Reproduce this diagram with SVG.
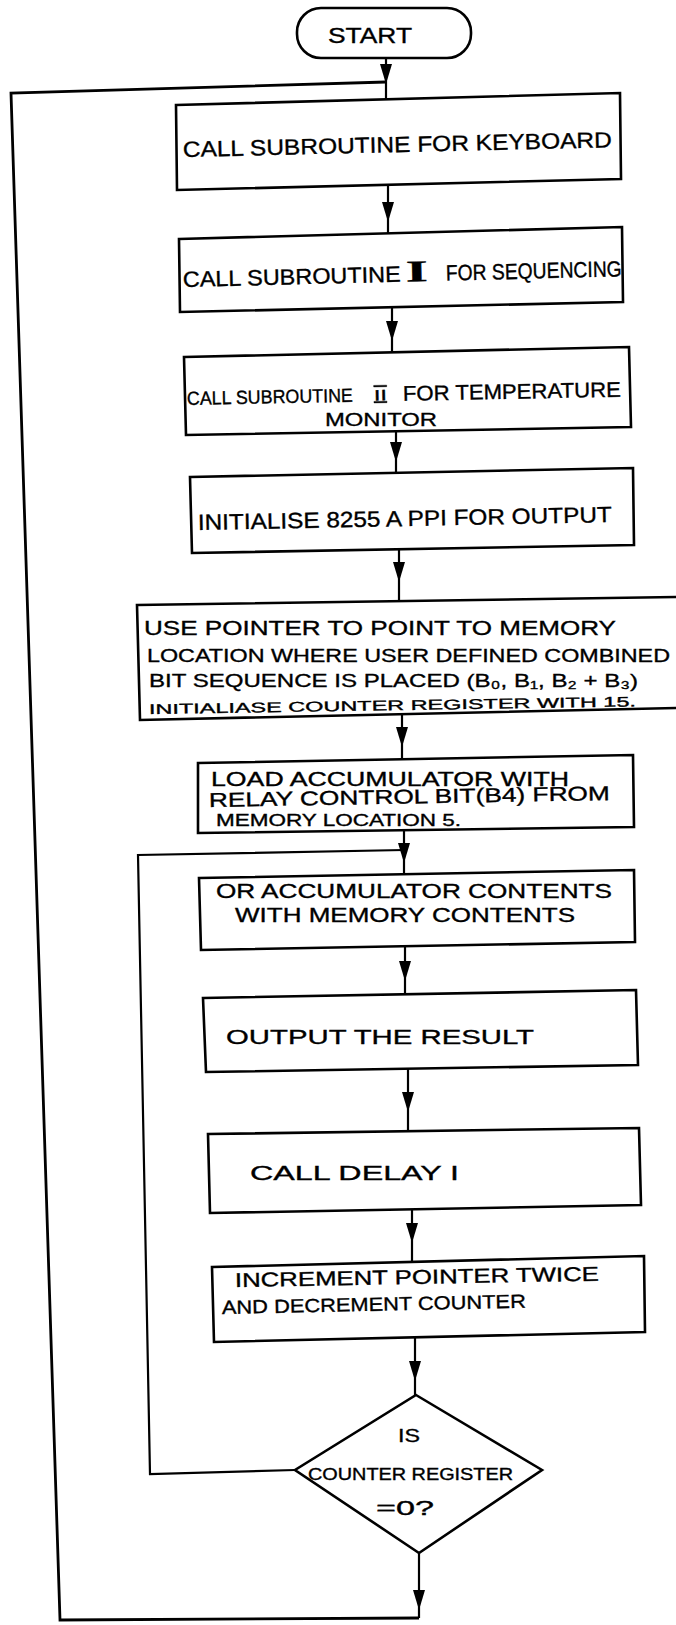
<svg xmlns="http://www.w3.org/2000/svg" width="676" height="1625" viewBox="0 0 676 1625">
  <defs>
    <marker id="ah" markerUnits="userSpaceOnUse" markerWidth="22" markerHeight="12" refX="20" refY="6" orient="auto">
      <path d="M0,0 L20,6 L0,12 Z" fill="#000"/>
    </marker>
    <style>
      .box { fill: #fff; stroke: #000; stroke-width: 2.6; stroke-linejoin: miter; }
      .wire { fill: none; stroke: #000; stroke-width: 2.2; }
      .loop { fill: none; stroke: #000; stroke-width: 2.8; }
      .flow { fill: none; stroke: #000; stroke-width: 2.2; marker-mid: url(#ah); }
      text { font-family: "Liberation Sans", "DejaVu Sans", sans-serif; fill: #000; stroke: #000; stroke-width: 0.35; }
      .roman { font-family: "Liberation Serif", serif; font-weight: bold; }
    </style>
  </defs>

  <rect width="676" height="1625" fill="#fff"/>

  <!-- connectors -->
  <g id="connectors">
    <path class="flow" d="M386,58 L386,84 L386,99"/>
    <path class="flow" d="M388,186 L388,222 L388,234"/>
    <path class="flow" d="M392,308 L392,341 L392,353"/>
    <path class="flow" d="M396,431 L396,462 L396,473"/>
    <path class="flow" d="M399,549 L399,582 L399,601"/>
    <path class="flow" d="M402,714 L402,747 L402,759"/>
    <path class="flow" d="M404,831 L404,863 L404,875"/>
    <path class="flow" d="M405,946 L405,981 L405,994"/>
    <path class="flow" d="M408,1068 L408,1112 L408,1131"/>
    <path class="flow" d="M412,1209 L412,1243 L412,1262"/>
    <path class="flow" d="M415,1337 L415,1381 L415,1395"/>
    <path class="flow" d="M419,1553 L419,1610 L419,1618"/>
    <!-- outer return path to the top -->
    <path class="loop" d="M419,1618 L60,1620 L11,93 L386,82"/>
    <!-- inner loop back from the decision -->
    <path class="wire" d="M295,1470 L150,1474 L138,855 L404,850"/>
  </g>

  <g id="start">
    <rect class="box" x="297" y="8" width="174" height="50" rx="24" ry="24"/>
    <text x="328" y="43" font-size="22" textLength="84" lengthAdjust="spacingAndGlyphs">START</text>
  </g>

  <g id="keyboard">
    <polygon class="box" points="176,105 620,93 621,179 177,190"/>
    <text x="183" y="157" font-size="22" textLength="429" lengthAdjust="spacingAndGlyphs" transform="rotate(-1.3 183 157)">CALL SUBROUTINE FOR KEYBOARD</text>
  </g>

  <g id="sequencing">
    <polygon class="box" points="179,239 622,227 623,302 180,312"/>
    <g transform="rotate(-1.4 183 287)">
      <text x="183" y="287" font-size="22" textLength="218" lengthAdjust="spacingAndGlyphs">CALL SUBROUTINE</text>
      <text class="roman" x="406" y="287" font-size="30" textLength="22" lengthAdjust="spacingAndGlyphs">I</text>
      <text x="446" y="287" font-size="22" textLength="176" lengthAdjust="spacingAndGlyphs">FOR SEQUENCING</text>
    </g>
  </g>

  <g id="temperature">
    <polygon class="box" points="184,357 629,347 631,427 186,435"/>
    <g transform="rotate(-1.1 187 405)">
      <text x="187" y="405" font-size="19" textLength="166" lengthAdjust="spacingAndGlyphs">CALL SUBROUTINE</text>
      <text x="374" y="404" font-size="15" textLength="13" lengthAdjust="spacingAndGlyphs" text-decoration="underline overline">II</text>
      <text x="403" y="405" font-size="21" textLength="218" lengthAdjust="spacingAndGlyphs">FOR TEMPERATURE</text>
    </g>
    <text x="325" y="426" font-size="19" textLength="112" lengthAdjust="spacingAndGlyphs">MONITOR</text>
  </g>

  <g id="init-ppi">
    <polygon class="box" points="190,477 633,468 634,545 192,553"/>
    <text x="198" y="530" font-size="22" textLength="414" lengthAdjust="spacingAndGlyphs" transform="rotate(-1.1 198 530)">INITIALISE 8255 A PPI FOR OUTPUT</text>
  </g>

  <g id="pointer">
    <polygon class="box" points="137,605 678,597 678,708 140,720"/>
    <text x="144" y="635" font-size="21" textLength="472" lengthAdjust="spacingAndGlyphs">USE POINTER TO POINT TO MEMORY</text>
    <text x="147" y="662" font-size="19" textLength="523" lengthAdjust="spacingAndGlyphs">LOCATION WHERE USER DEFINED COMBINED</text>
    <text x="149" y="687" font-size="19" textLength="489" lengthAdjust="spacingAndGlyphs">BIT SEQUENCE IS PLACED (B₀, B₁, B₂ + B₃)</text>
    <text x="149" y="714" font-size="14" textLength="487" lengthAdjust="spacingAndGlyphs" transform="rotate(-0.9 149 714)">INITIALIASE COUNTER REGISTER WITH 15.</text>
  </g>

  <g id="load-acc">
    <polygon class="box" points="198,763 633,755 634,827 198,833"/>
    <text x="211" y="786" font-size="20" textLength="358" lengthAdjust="spacingAndGlyphs">LOAD ACCUMULATOR WITH</text>
    <text x="209" y="807" font-size="20" textLength="401" lengthAdjust="spacingAndGlyphs" transform="rotate(-1 209 807)">RELAY CONTROL BIT(B4) FROM</text>
    <text x="216" y="826" font-size="17" textLength="245" lengthAdjust="spacingAndGlyphs">MEMORY LOCATION 5.</text>
  </g>

  <g id="or-acc">
    <polygon class="box" points="199,878 634,870 635,942 201,950"/>
    <text x="216" y="898" font-size="21" textLength="396" lengthAdjust="spacingAndGlyphs">OR ACCUMULATOR CONTENTS</text>
    <text x="235" y="922" font-size="20" textLength="340" lengthAdjust="spacingAndGlyphs">WITH MEMORY CONTENTS</text>
  </g>

  <g id="output">
    <polygon class="box" points="203,998 636,990 638,1065 206,1072"/>
    <text x="226" y="1044" font-size="21" textLength="308" lengthAdjust="spacingAndGlyphs">OUTPUT THE RESULT</text>
  </g>

  <g id="delay">
    <polygon class="box" points="208,1134 639,1128 641,1205 210,1213"/>
    <text x="250" y="1180" font-size="21" textLength="209" lengthAdjust="spacingAndGlyphs">CALL DELAY I</text>
  </g>

  <g id="increment">
    <polygon class="box" points="212,1267 644,1256 645,1332 214,1342"/>
    <text x="235" y="1287" font-size="20" textLength="364" lengthAdjust="spacingAndGlyphs" transform="rotate(-1 235 1287)">INCREMENT POINTER TWICE</text>
    <text x="222" y="1314" font-size="19" textLength="304" lengthAdjust="spacingAndGlyphs" transform="rotate(-1.2 222 1314)">AND DECREMENT COUNTER</text>
  </g>

  <g id="decision">
    <polygon class="box" points="416,1395 542,1470 419,1553 295,1470"/>
    <text x="398" y="1442" font-size="19" textLength="22" lengthAdjust="spacingAndGlyphs">IS</text>
    <text x="308" y="1480" font-size="16" textLength="205" lengthAdjust="spacingAndGlyphs">COUNTER REGISTER</text>
    <text x="376" y="1515" font-size="20" textLength="58" lengthAdjust="spacingAndGlyphs">=0?</text>
  </g>
</svg>
